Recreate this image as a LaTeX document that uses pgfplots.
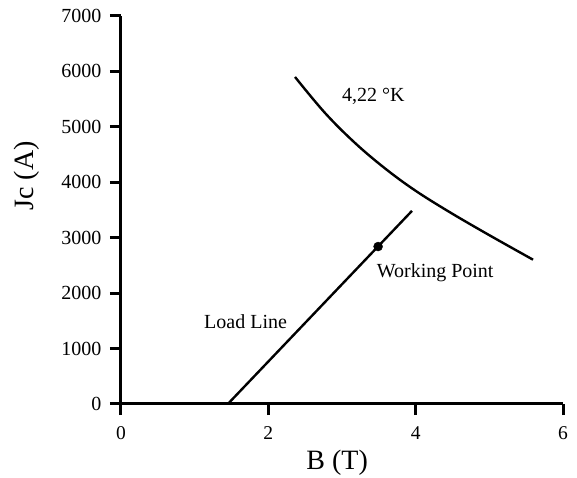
\documentclass[border=0pt]{standalone}
\usepackage{fontspec}
\setmainfont{Liberation Serif}
\usepackage{pgfplots}
\pgfplotsset{compat=1.18}
\begin{document}
\begin{tikzpicture}
\path[use as bounding box] (-121pt,-74pt) rectangle (456pt,404pt);
\begin{axis}[
  at={(0,0)}, anchor=origin,
  x=73.67pt, y=0.05543pt,
  scale only axis,
  xmin=0, xmax=6, ymin=0, ymax=7000,
  axis x line*=bottom, axis y line*=left,
  axis line style={line width=3pt,-},
  xtick={0,2,4,6}, ytick={0,1000,...,7000},
  tick align=outside,
  major tick length=11pt,
  tick style={line width=3pt, black},
  /pgf/number format/assume math mode=true,
  /pgf/number format/set thousands separator={},
  yticklabel style={font=\fontsize{20}{24}\selectfont, xshift=-5pt},
  xticklabel style={font=\fontsize{19.5}{24}\selectfont, yshift=-8pt},
  xlabel={B (T)}, ylabel={Jc (A)},
  xlabel style={font=\fontsize{28}{32}\selectfont, at={(axis description cs:0.489,-0.152)}, anchor=center},
  ylabel style={font=\fontsize{28}{32}\selectfont, at={(axis description cs:-0.213,0.588)}, anchor=center, rotate=0},
  clip=false,
]
\addplot[black, line width=2.4pt, smooth, tension=0.6] coordinates {
  (2.362,5899) (2.769,5250) (3.176,4709) (3.584,4249) (3.991,3853) (4.466,3457) (5.009,3038) (5.593,2603)
};
\addplot[black, line width=2.4pt] coordinates {(1.45,0) (3.95,3484)};
\addplot[only marks, mark=*, mark size=4.5pt, black] coordinates {(3.49,2840)};
\node[anchor=base west, font=\fontsize{20}{24}\selectfont, inner sep=0pt] at (axis cs:3.0,5448) {4,22 °K};
\node[anchor=base west, font=\fontsize{20}{24}\selectfont, inner sep=0pt] at (axis cs:3.47,2273) {Working Point};
\node[anchor=base west, font=\fontsize{20}{24}\selectfont, inner sep=0pt] at (axis cs:1.127,1353) {Load Line};
\end{axis}
\end{tikzpicture}
\end{document}
